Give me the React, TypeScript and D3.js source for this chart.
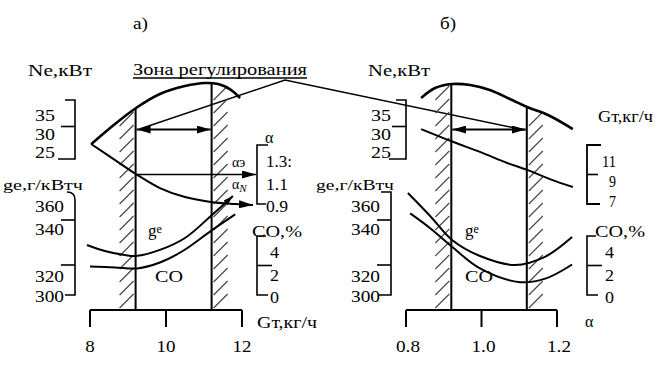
import React from "react";
import * as d3 from "d3";

type Pt = [number, number];

// ---------- Panel а) : abscissa = fuel consumption Gт, кг/ч ----------
const gtTicksA = [8, 10, 12];
const zoneA = [9.2, 11.2];
const neCurveA: Pt[] = [[8.03, 27.5], [8.53, 30.25], [9.21, 33.64], [9.84, 36.02], [10.5, 37.37], [11.03, 37.88], [11.37, 37.71], [11.68, 36.86], [11.95, 35.34]];
const alphaCurveA: Pt[] = [[8.03, 1.307], [8.66, 1.198], [9.21, 1.103], [9.84, 1.008], [10.5, 0.947], [11.18, 0.914], [11.82, 0.9], [12.29, 0.893]];
const geCurveA: Pt[] = [[7.92, 328.9], [8.39, 326.2], [8.92, 324.4], [9.21, 324.0], [9.84, 326.7], [10.5, 332.0], [11.18, 343.5], [11.76, 360.9]];
const coCurveA: Pt[] = [[8.0, 1.93], [8.66, 1.87], [9.24, 1.8], [9.84, 2.2], [10.45, 3.0], [11.21, 4.4], [11.82, 5.47]];
const alphaTicksA = [1.3, 1.1, 0.9];
const alphaLabelsA = ["1.3:", "1.1", "0.9"];
const alphaEcon = 1.1;

// ---------- Panel б) : abscissa = excess air ratio α ----------
const alphaTicksB = [0.8, 1.0, 1.2];
const zoneB = [0.92, 1.12];
const neCurveB: Pt[] = [[0.84, 35.34], [0.877, 37.03], [0.922, 37.71], [0.97, 37.54], [1.022, 36.69], [1.075, 35.17], [1.121, 33.81], [1.176, 32.46], [1.242, 30.08]];
const gtCurveB: Pt[] = [[0.84, 12.08], [0.919, 11.27], [0.996, 10.53], [1.068, 9.78], [1.121, 9.31], [1.181, 8.69], [1.242, 8.15]];
const geCurveB: Pt[] = [[0.805, 363.5], [0.864, 343.5], [0.922, 331.1], [0.996, 324.0], [1.089, 320.0], [1.168, 323.6], [1.24, 332.4]];
const coCurveB: Pt[] = [[0.811, 5.53], [0.864, 4.53], [0.922, 3.27], [0.996, 1.8], [1.102, 0.87], [1.171, 1.13], [1.24, 2.07]];
const gtTicksB = [11, 9, 7];

// ---------- shared ordinates ----------
const neTicks = [35, 30, 25];
const geTicks = [360, 340, 320, 300];
const coTicks = [4, 2, 0];

// ---------- scales ----------
const xA = d3.scaleLinear().domain([8, 12]).range([90, 242]);
const xB = d3.scaleLinear().domain([0.8, 1.2]).range([406, 557]);
const neY = d3.scaleLinear().domain([25, 35]).range([159, 100]);
const neLabelY = d3.scaleLinear().domain([25, 35]).range([158, 121]);
const geY = d3.scaleLinear().domain([300, 320, 340, 360]).range([295, 265, 220, 197]);
const geLabelY = d3.scaleLinear().domain([300, 320, 340, 360]).range([302, 282, 235, 212]);
const coY = d3.scaleLinear().domain([0, 4]).range([295, 236]);
const coLabelY = d3.scaleLinear().domain([0, 4]).range([303, 258]);
const alphaY = d3.scaleLinear().domain([0.9, 1.3]).range([204, 145]);
const alphaLabelY = d3.scaleLinear().domain([0.9, 1.3]).range([212, 167]);
const gtY = d3.scaleLinear().domain([7, 11]).range([204, 145]);
const gtLabelY = d3.scaleLinear().domain([7, 11]).range([207, 167]);

const AXIS_Y = 310;
const smooth = d3.line<Pt>().curve(d3.curveCatmullRom.alpha(0.5));
const FONT = "'Liberation Serif', 'DejaVu Serif', serif";

function toPx(c: Pt[], xs: (v: number) => number, ys: (v: number) => number): Pt[] {
  return c.map(([a, b]) => [xs(a), ys(b)] as Pt);
}
function interp(p: Pt[], x: number) {
  for (let i = 0; i < p.length - 1; i++) {
    const [x0, y0] = p[i], [x1, y1] = p[i + 1];
    if (x >= x0 && x <= x1) return y0 + ((y1 - y0) * (x - x0)) / (x1 - x0);
  }
  return x < p[0][0] ? p[0][1] : p[p.length - 1][1];
}
function hatch(x0: number, top: Pt[], key: string) {
  const w = 14, step = 13;
  const out: JSX.Element[] = [];
  for (let y = AXIS_Y - 2, i = 0; y - w / 2 > interp(top, x0 + w / 2); y -= step, i++) {
    out.push(<line key={key + i} x1={x0} y1={y} x2={x0 + w} y2={y - w} stroke="#444" strokeWidth={1.1} />);
  }
  return out;
}

const T = (p: { x: number; y: number; w?: number; size?: number; anchor?: string; children: React.ReactNode; style?: string }) => (
  <text
    x={p.x}
    y={p.y}
    style={{ fontFamily: FONT }}
    fontSize={p.size ?? 17}
    textAnchor={p.anchor ?? "start"}
    textLength={p.w}
    lengthAdjust={p.w ? "spacingAndGlyphs" : undefined}
    fontStyle={p.style}
    fill="#000"
  >
    {p.children}
  </text>
);

function NeBracket({ bx, lx }: { bx: number; lx: number }) {
  return (
    <g>
      <path d={`M${bx - 10},${neY(35)} H${bx} V${neY(25)} H${bx - 17}`} fill="none" stroke="#000" strokeWidth={1.6} />
      <line x1={bx - 14} x2={bx} y1={neY(30) - 3} y2={neY(30) - 3} stroke="#000" strokeWidth={1.6} />
      {neTicks.map((v) => (
        <T key={v} x={lx} y={neLabelY(v)} w={20}>{String(v)}</T>
      ))}
    </g>
  );
}

function GeBracket({ bx, lx, round }: { bx: number; lx: number; round: boolean }) {
  const top = geY(360) - 5;
  const d = round
    ? `M${bx - 8},${top} Q${bx},${top} ${bx},${top + 8} V${geY(300)} H${bx - 10}`
    : `M${bx - 10},${top} H${bx} V${geY(300)} H${bx - 13}`;
  return (
    <g>
      <path d={d} fill="none" stroke="#000" strokeWidth={1.6} />
      {[340, 320].map((v) => (
        <line key={v} x1={bx - 14} x2={bx} y1={geY(v)} y2={geY(v)} stroke="#000" strokeWidth={1.6} />
      ))}
      {geTicks.map((v) => (
        <T key={v} x={lx} y={geLabelY(v)} w={29}>{String(v)}</T>
      ))}
    </g>
  );
}

function CoBracket({ bx, lx, tx }: { bx: number; lx: number; tx: number }) {
  return (
    <g>
      <path d={`M${bx + 9},${coY(4)} H${bx} V${coY(0)} H${bx + 11}`} fill="none" stroke="#000" strokeWidth={1.6} />
      <line x1={bx} x2={bx + 15} y1={coY(2)} y2={coY(2)} stroke="#000" strokeWidth={1.6} />
      <T x={tx} y={237} w={50}>CO,%</T>
      {coTicks.map((v) => (
        <T key={v} x={lx} y={coLabelY(v)} w={9}>{String(v)}</T>
      ))}
    </g>
  );
}

function PanelA() {
  const zx = zoneA.map((v) => xA(v));
  const neP = toPx(neCurveA, xA, neY);
  const alP = toPx(alphaCurveA, xA, alphaY);
  const geP = toPx(geCurveA, xA, geY);
  const coP = toPx(coCurveA, xA, coY);
  const arrowY = neY(30);
  const ae = alphaY(alphaEcon);
  const bx = 257;
  return (
    <g>
      <T x={133} y={29} w={15}>а)</T>
      <T x={28} y={76} w={64} size={16}>Ne,кВт</T>
      <NeBracket bx={75} lx={35} />
      <T x={3} y={190} w={80} size={15}>ge,г/кВтч</T>
      <GeBracket bx={75} lx={35} round={true} />

      {hatch(zx[0] - 16, neP, "ha")}
      {hatch(zx[1] + 2, neP, "hb")}

      {zx.map((x, i) => (
        <line key={i} x1={x} x2={x} y1={interp(neP, x)} y2={AXIS_Y} stroke="#000" strokeWidth={2} />
      ))}

      <path d={smooth(neP)!} fill="none" stroke="#000" strokeWidth={2.6} />
      <path d={smooth(alP)!} fill="none" stroke="#000" strokeWidth={2} markerEnd="url(#ah)" />
      <path d={smooth(geP)!} fill="none" stroke="#000" strokeWidth={2} markerEnd="url(#ahs)" />
      <path d={smooth(coP)!} fill="none" stroke="#000" strokeWidth={2} />

      <line x1={zx[0] + 1} x2={zx[1] - 1} y1={arrowY} y2={arrowY} stroke="#000" strokeWidth={1.8} markerStart="url(#ah)" markerEnd="url(#ah)" />
      <line x1={zx[0]} x2={bx - 1} y1={ae} y2={ae} stroke="#000" strokeWidth={1.6} markerEnd="url(#ah)" />

      <path d={`M${bx + 11},${alphaY(1.3)} H${bx} V${alphaY(0.9)} H${bx + 9}`} fill="none" stroke="#000" strokeWidth={1.6} />
      <T x={265} y={143} size={16}>α</T>
      {alphaTicksA.map((v, i) => (
        <T key={v} x={266} y={alphaLabelY(v)} w={i === 0 ? 26 : 22}>{alphaLabelsA[i]}</T>
      ))}
      <text x={232} y={167} style={{ fontFamily: FONT }} fontSize={14} fill="#000">α<tspan>э</tspan></text>
      <text x={232} y={189} style={{ fontFamily: FONT }} fontSize={14} fill="#000">α<tspan fontSize={11} fontStyle="italic" dy={3}>N</tspan></text>

      <CoBracket bx={257} lx={270} tx={252} />

      <text x={148} y={236} style={{ fontFamily: FONT }} fontSize={17} fill="#000">g<tspan fontSize={12} dy={-3}>e</tspan></text>
      <T x={155} y={282} w={28}>CO</T>

      <line x1={xA(8)} x2={xA(12)} y1={AXIS_Y} y2={AXIS_Y} stroke="#000" strokeWidth={2} />
      {gtTicksA.map((v) => (
        <g key={v}>
          <line x1={xA(v)} x2={xA(v)} y1={AXIS_Y} y2={AXIS_Y + 17} stroke="#000" strokeWidth={2} />
          <T x={xA(v)} y={352} anchor="middle" w={String(v).length * 9.5}>{String(v)}</T>
        </g>
      ))}
      <T x={257} y={328} w={60} size={16}>Gт,кг/ч</T>
    </g>
  );
}

function PanelB() {
  const zx = zoneB.map((v) => xB(v));
  const neP = toPx(neCurveB, xB, neY);
  const gtP = toPx(gtCurveB, xB, gtY);
  const geP = toPx(geCurveB, xB, geY);
  const coP = toPx(coCurveB, xB, coY);
  const arrowY = neY(30);
  const bx = 587;
  return (
    <g>
      <T x={440} y={29} w={16}>б)</T>
      <T x={368} y={76} w={62} size={16}>Ne,кВт</T>
      <NeBracket bx={406} lx={371} />
      <T x={316} y={190} w={78} size={15}>ge,г/кВтч</T>
      <GeBracket bx={391} lx={351} round={false} />

      {hatch(zx[0] - 16, neP, "hc")}
      {hatch(zx[1] + 2, neP, "hd")}

      {zx.map((x, i) => (
        <line key={i} x1={x} x2={x} y1={interp(neP, x)} y2={AXIS_Y} stroke="#000" strokeWidth={2} />
      ))}

      <path d={smooth(neP)!} fill="none" stroke="#000" strokeWidth={2.6} />
      <path d={smooth(gtP)!} fill="none" stroke="#000" strokeWidth={2} />
      <path d={smooth(geP)!} fill="none" stroke="#000" strokeWidth={2} />
      <path d={smooth(coP)!} fill="none" stroke="#000" strokeWidth={2} />

      <line x1={zx[0] + 1} x2={zx[1] - 1} y1={arrowY} y2={arrowY} stroke="#000" strokeWidth={1.8} markerStart="url(#ah)" markerEnd="url(#ah)" />

      <T x={598} y={122} w={55} size={16}>Gт,кг/ч</T>
      <path d={`M${bx + 14},${gtY(11)} H${bx} V${gtY(7)} H${bx + 13}`} fill="none" stroke="#000" strokeWidth={1.8} />
      <line x1={bx} x2={bx + 11} y1={gtY(9)} y2={gtY(9)} stroke="#000" strokeWidth={1.6} />
      {gtTicksB.map((v) => (
        <T key={v} x={616} y={gtLabelY(v)} anchor="end" w={String(v).length * 7}>{String(v)}</T>
      ))}

      <CoBracket bx={587} lx={605} tx={595} />

      <text x={465} y={236} style={{ fontFamily: FONT }} fontSize={17} fill="#000">g<tspan fontSize={12} dy={-3}>e</tspan></text>
      <T x={465} y={282} w={28}>CO</T>

      <line x1={xB(0.8)} x2={xB(1.2)} y1={AXIS_Y} y2={AXIS_Y} stroke="#000" strokeWidth={2} />
      {alphaTicksB.map((v) => (
        <g key={v}>
          <line x1={xB(v)} x2={xB(v)} y1={AXIS_Y} y2={AXIS_Y + 17} stroke="#000" strokeWidth={2} />
          <T x={xB(v) + 2} y={352} anchor="middle" w={24}>{v.toFixed(1)}</T>
        </g>
      ))}
      <T x={585} y={327} size={16}>α</T>
    </g>
  );
}

export default function App() {
  return (
    <svg
      width={658}
      height={384}
      viewBox="0 0 658 384"
      style={{ position: "absolute", left: 0, top: 0, background: "#fff", fontFamily: FONT }}
    >
      <defs>
        <marker id="ah" viewBox="0 0 14 8" refX="14" refY="4" markerWidth={14} markerHeight={8} markerUnits="userSpaceOnUse" orient="auto-start-reverse">
          <path d="M0,0 L14,4 L0,8 z" fill="#000" />
        </marker>
        <marker id="ahs" viewBox="0 0 10 6" refX="10" refY="3" markerWidth={10} markerHeight={6} markerUnits="userSpaceOnUse" orient="auto">
          <path d="M0,0 L10,3 L0,6 z" fill="#000" />
        </marker>
      </defs>
      <rect width={658} height={384} fill="#fff" />

      <T x={133} y={75} w={174} size={16}>Зона регулирования</T>
      <line x1={133} x2={307} y1={78} y2={78} stroke="#000" strokeWidth={1.3} />
      <polyline points={`${xA(zoneA[0]) + 4},129 285,80 ${xB(zoneB[1]) - 2},130`} fill="none" stroke="#000" strokeWidth={1.5} />

      <PanelA />
      <PanelB />
    </svg>
  );
}
